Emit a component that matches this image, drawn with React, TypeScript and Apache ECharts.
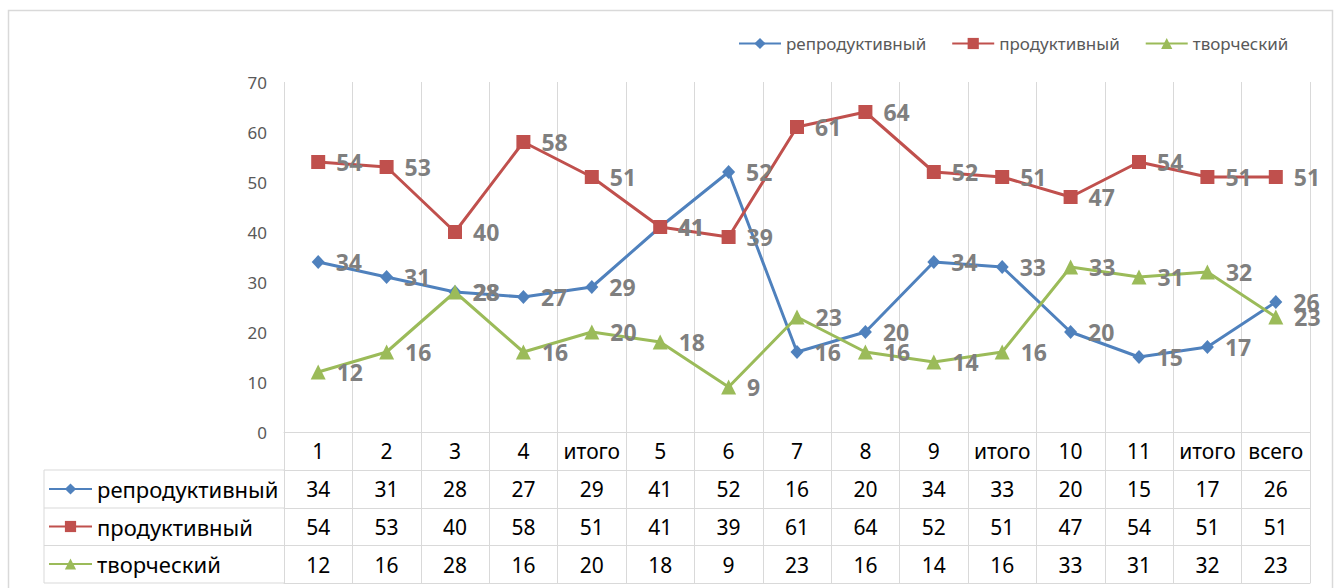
import React, { useEffect, useRef } from "react";
import * as echarts from "echarts";

const categories = ["1", "2", "3", "4", "итого", "5", "6", "7", "8", "9", "итого", "10", "11", "итого", "всего"];
const seriesNames = ["репродуктивный", "продуктивный", "творческий"];
const reproductive = [34, 31, 28, 27, 29, 41, 52, 16, 20, 34, 33, 20, 15, 17, 26];
const productive = [54, 53, 40, 58, 51, 41, 39, 61, 64, 52, 51, 47, 54, 51, 51];
const creative = [12, 16, 28, 16, 20, 18, 9, 23, 16, 14, 16, 33, 31, 32, 23];
const yTicks = { min: 0, max: 70, interval: 10 };

const colors = ["#4F81BD", "#C0504D", "#9BBB59"];
const symbols = ["diamond", "rect", "triangle"];
const symbolSizes = [[13, 14], 14, 15];
const FONT = "'Noto Sans', sans-serif";
const GRID_LINE = "#d9d9d9";

export default function App() {
  const ref = useRef<HTMLDivElement>(null);
  useEffect(() => {
    if (!ref.current) return;
    const chart = echarts.init(ref.current, undefined, { renderer: "svg" });
    const values = [reproductive, productive, creative];

    const tableRowOffsets = [38, 76, 113.5];
    const tickLens = [38, 38, 37.5, 37.5];
    const rowCenters = [489, 526.5, 564];

    const baseAxis = (i: number) => ({
      type: "category",
      data: categories,
      position: "bottom",
      boundaryGap: true,
      axisLine: { show: true, lineStyle: { color: GRID_LINE, width: 1 } },
      axisTick: { show: true, interval: 0, length: tickLens[i], lineStyle: { color: GRID_LINE } },
    });

    const tableLabel = {
      interval: 0,
      margin: 8,
      fontSize: 21,
      lineHeight: 22,
      color: "#000",
      fontFamily: FONT,
    };

    const xAxes: any[] = [
      {
        ...baseAxis(0),
        offset: 0,
        splitLine: { show: true, interval: 0, lineStyle: { color: GRID_LINE, width: 1 } },
        axisLabel: { ...tableLabel },
      },
    ];
    values.forEach((arr, i) => {
      xAxes.push({
        ...baseAxis(i + 1),
        offset: tableRowOffsets[i],
        axisLabel: {
          ...tableLabel,
          formatter: (_v: string, idx: number) => String(arr[idx]),
        },
      });
    });
    xAxes.push({
      type: "category",
      data: categories,
      position: "bottom",
      offset: 151,
      axisLine: { show: true, lineStyle: { color: GRID_LINE, width: 1 } },
      axisTick: { show: false },
      axisLabel: { show: false },
    });

    const series = seriesNames.map((name, i) => ({
      name,
      type: "line",
      data: values[i],
      xAxisIndex: 0,
      yAxisIndex: 0,
      symbol: symbols[i],
      symbolSize: symbolSizes[i],
      showAllSymbol: true,
      itemStyle: { color: colors[i] },
      lineStyle: { color: colors[i], width: 3 },
      label: {
        show: true,
        position: "right",
        distance: 11,
        fontSize: 23,
        fontWeight: "bold",
        color: "#7f7f7f",
        fontFamily: FONT,
      },
      emphasis: { disabled: true },
    }));

    const leftLines = [470, 508, 545.5, 583].map((y) => ({
      type: "line",
      shape: { x1: 44, y1: y, x2: 284, y2: y },
      style: { stroke: GRID_LINE, lineWidth: 1 },
    }));

    const tableLegends = seriesNames.map((name, i) => ({
      data: [name],
      left: 48,
      top: rowCenters[i] - 12,
      orient: "horizontal",
      itemWidth: 43,
      itemHeight: 14,
      itemGap: 0,
      padding: 0,
      textStyle: { fontSize: 22, lineHeight: 24, color: "#000", fontFamily: FONT },
      selectedMode: false,
    }));

    chart.setOption({
      animation: false,
      color: colors,
      grid: { left: 284, right: 26, top: 82, bottom: 156, containLabel: false },
      legend: [
        {
          data: seriesNames,
          left: 733,
          top: 30,
          orient: "horizontal",
          itemWidth: 42,
          itemHeight: 14,
          itemGap: 25,
          textStyle: { fontSize: 17, color: "#595959", fontFamily: FONT },
          selectedMode: false,
        },
        ...tableLegends,
      ],
      xAxis: xAxes,
      yAxis: {
        type: "value",
        min: yTicks.min,
        max: yTicks.max,
        interval: yTicks.interval,
        axisLine: { show: false },
        axisTick: { show: false },
        splitLine: { show: false },
        axisLabel: { fontSize: 17, color: "#595959", margin: 17, fontFamily: FONT },
      },
      series,
      graphic: [
        {
          type: "rect",
          shape: { x: 8.5, y: 10.5, width: 1324, height: 600 },
          style: { fill: "none", stroke: GRID_LINE, lineWidth: 1.5 },
          silent: true,
        },
        ...leftLines,
        {
          type: "line",
          shape: { x1: 44, y1: 470, x2: 44, y2: 583 },
          style: { stroke: GRID_LINE, lineWidth: 1 },
        },
      ],
    });
    return () => chart.dispose();
  }, []);
  return (
    <div
      ref={ref}
      style={{ position: "fixed", left: 0, top: 0, width: 1336, height: 588, background: "#fff" }}
    />
  );
}
